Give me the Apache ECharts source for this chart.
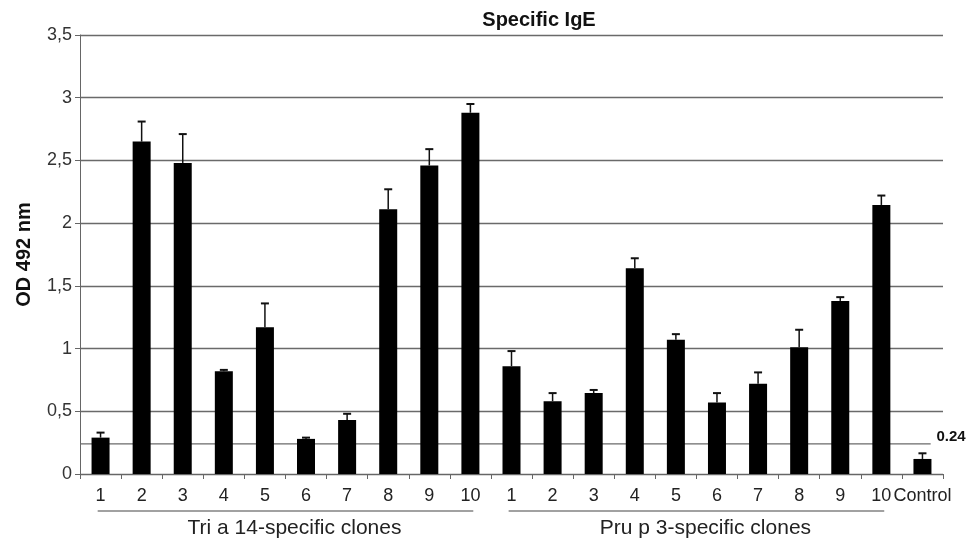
<!DOCTYPE html>
<html>
<head>
<meta charset="utf-8">
<script src="https://cdn.jsdelivr.net/npm/echarts@6/dist/echarts.min.js"></script>
<style>
html,body{margin:0;padding:0;background:#fff;}
#c{width:975px;height:543px;}
</style>
</head>
<body>
<div id="c"></div>
<script>
var categories = ['1','2','3','4','5','6','7','8','9','10','1','2','3','4','5','6','7','8','9','10','Control'];
var triValues = [0.29, 2.65, 2.48, 0.82, 1.17, 0.28, 0.43, 2.11, 2.46, 2.88];
var triErrors = [0.04, 0.16, 0.23, 0.01, 0.19, 0.01, 0.05, 0.16, 0.13, 0.07];
var pruValues = [0.86, 0.58, 0.645, 1.64, 1.07, 0.57, 0.72, 1.01, 1.38, 2.145];
var pruErrors = [0.12, 0.065, 0.025, 0.08, 0.045, 0.075, 0.09, 0.14, 0.03, 0.075];
var controlValue = [0.12];
var controlError = [0.045];
var threshold = 0.24;
var groups = [
  {name: 'Tri a 14-specific clones', from: 0, to: 9},
  {name: 'Pru p 3-specific clones', from: 10, to: 19}
];

var values = triValues.concat(pruValues, controlValue);
var errors = triErrors.concat(pruErrors, controlError);
var errData = values.map(function(v, i){ return [i, v, v + errors[i]]; });

var FONT = 'Liberation Sans, Arial, sans-serif';
var chart = echarts.init(document.getElementById('c'));
var option = {
  animation: false,
  backgroundColor: '#fff',
  title: {
    text: 'Specific IgE', left: 534, top: 5, textAlign: 'center',
    textStyle: {fontFamily: FONT, fontSize: 20, fontWeight: 'bold', color: '#111'}
  },
  grid: {left: 80, right: 32, top: 35, bottom: 69},
  xAxis: {
    type: 'category', data: categories, boundaryGap: true,
    axisLine: {lineStyle: {color: '#666', width: 1}},
    axisTick: {show: true, length: 5, lineStyle: {color: '#666'}},
    axisLabel: {fontFamily: FONT, fontSize: 18, color: '#222', margin: 13, interval: 0}
  },
  yAxis: {
    type: 'value', min: 0, max: 3.5, interval: 0.5,
    name: 'OD 492 nm', nameLocation: 'middle', nameGap: 46, nameRotate: 90,
    nameTextStyle: {fontFamily: FONT, fontSize: 20, fontWeight: 'bold', color: '#111'},
    axisLine: {show: true, lineStyle: {color: '#666', width: 1}},
    axisTick: {show: true, length: 5, lineStyle: {color: '#666'}},
    axisLabel: {fontFamily: FONT, fontSize: 18, color: '#333', margin: 8,
      formatter: function(v){ return String(v).replace('.', ','); }},
    splitLine: {show: true, lineStyle: {color: '#6a6a6a', width: 1.3}}
  },
  series: [
    {
      type: 'bar', data: values, barWidth: 18,
      itemStyle: {color: '#000'}, z: 3
    },
    {
      type: 'custom', data: errData, z: 4,
      renderItem: function(params, api){
        var x = api.value(0);
        var p0 = api.coord([x, api.value(1)]);
        var p1 = api.coord([x, api.value(2)]);
        var cap = 4;
        return {
          type: 'group',
          children: [
            {type: 'line', shape: {x1: p0[0], y1: p0[1], x2: p1[0], y2: p1[1]},
              style: {stroke: '#111', lineWidth: 1.5}},
            {type: 'line', shape: {x1: p1[0]-cap, y1: p1[1], x2: p1[0]+cap, y2: p1[1]},
              style: {stroke: '#111', lineWidth: 2}}
          ]
        };
      }
    }
  ]
};
chart.setOption(option);

function addGraphics(){
  var g = [];
  var ty = chart.convertToPixel({yAxisIndex: 0}, threshold);
  var x0 = chart.convertToPixel({xAxisIndex: 0}, 0);
  var xLast = chart.convertToPixel({xAxisIndex: 0}, categories.length - 1);
  var step = chart.convertToPixel({xAxisIndex: 0}, 1) - x0;
  var axisLeft = x0 - step / 2;
  g.push({type: 'line', z: 2, shape: {x1: axisLeft, y1: ty, x2: xLast + step * 0.2, y2: ty},
    style: {stroke: '#6a6a6a', lineWidth: 1.3}});
  g.push({type: 'text', z: 5, x: xLast + step * 0.34, y: ty - 7,
    style: {text: String(threshold), font: 'bold 15px ' + FONT, fill: '#111', textVerticalAlign: 'middle'}});
  var y0 = chart.convertToPixel({yAxisIndex: 0}, 0);
  groups.forEach(function(gr){
    var a = chart.convertToPixel({xAxisIndex: 0}, gr.from) - step * 0.07;
    var b = chart.convertToPixel({xAxisIndex: 0}, gr.to) + step * 0.07;
    g.push({type: 'line', shape: {x1: a, y1: y0 + 37, x2: b, y2: y0 + 37},
      style: {stroke: '#444', lineWidth: 1.2}});
    g.push({type: 'text', x: (a + b) / 2 + 9, y: y0 + 54,
      style: {text: gr.name, font: '21px ' + FONT, fill: '#222', textAlign: 'center', textVerticalAlign: 'middle'}});
  });
  chart.setOption({graphic: g});
}
addGraphics();
</script>
</body>
</html>
